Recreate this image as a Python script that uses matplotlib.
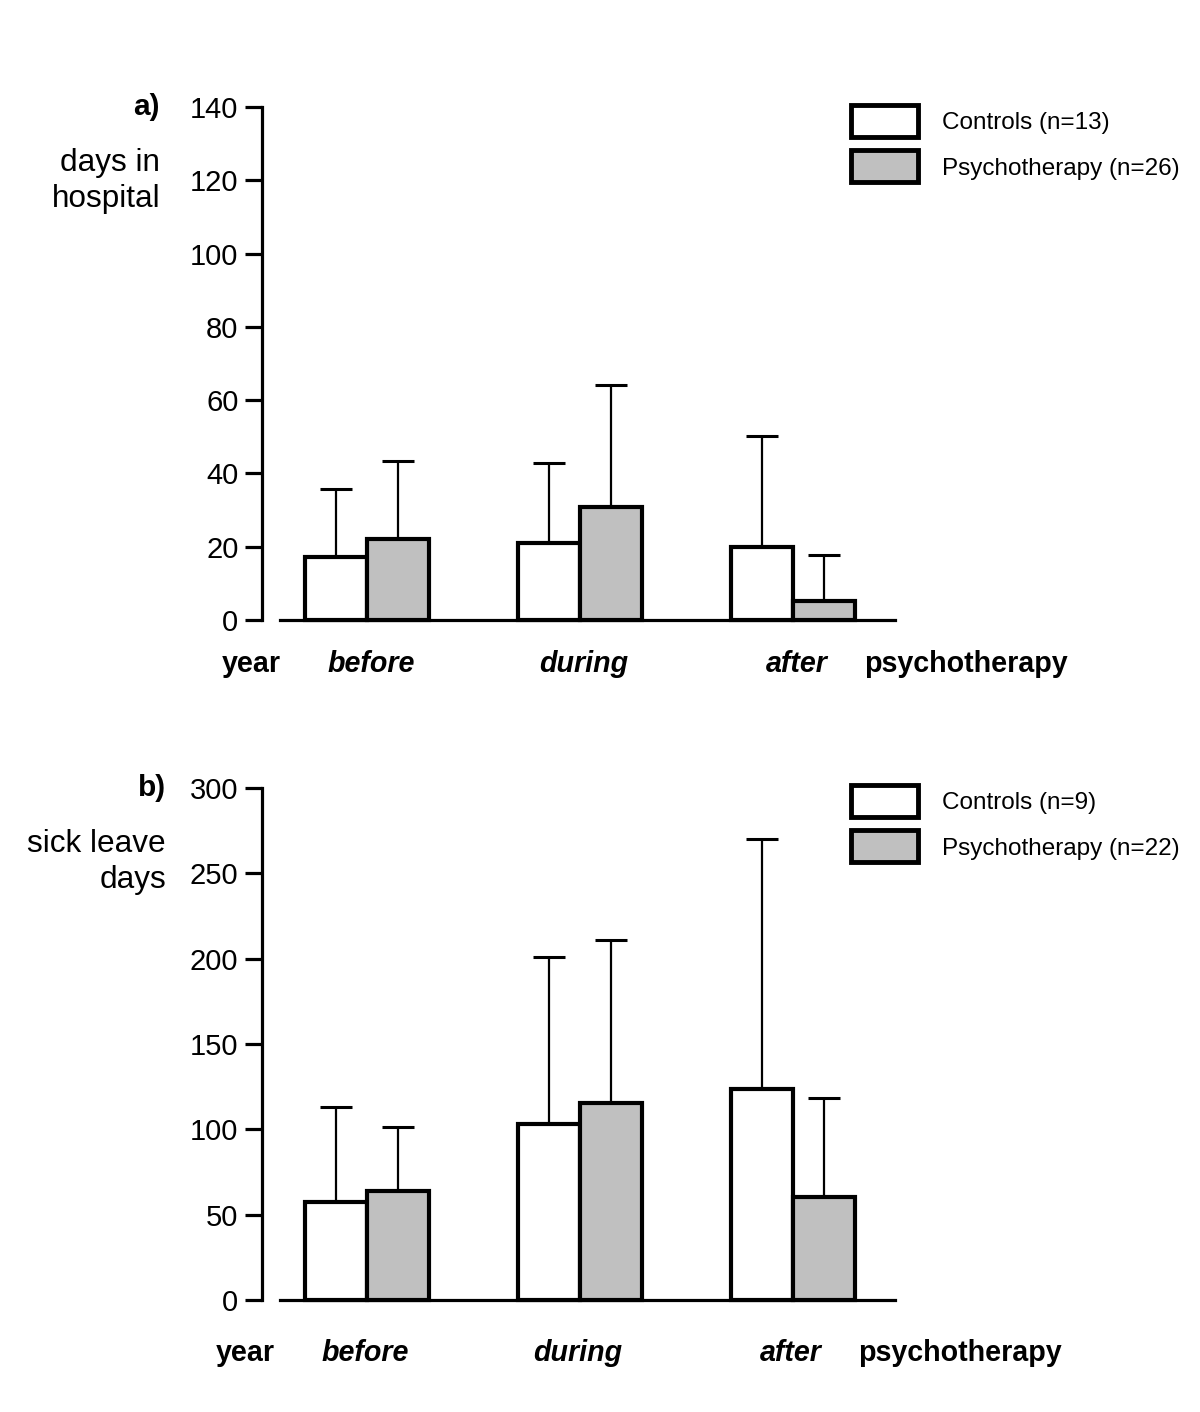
import matplotlib
matplotlib.use("Agg")
import matplotlib.pyplot as plt
from matplotlib.patches import Patch, Rectangle
from matplotlib.legend_handler import HandlerPatch
import numpy as np

plt.rcParams['font.family'] = ['Liberation Sans', 'DejaVu Sans']

periods = ["before", "during", "after"]
hosp_controls = [17.2, 21.0, 19.9]
hosp_controls_sd = [18.5, 21.8, 30.3]
hosp_psych = [22.1, 30.8, 5.2]
hosp_psych_sd = [21.3, 33.3, 12.5]
hosp_ticks = [0, 20, 40, 60, 80, 100, 120, 140]

sick_controls = [57.4, 103.1, 123.6]
sick_controls_sd = [55.6, 97.9, 146.4]
sick_psych = [63.9, 115.4, 60.4]
sick_psych_sd = [37.5, 95.6, 58.0]
sick_ticks = [0, 50, 100, 150, 200, 250, 300]

W, H = 1200, 1412
fig = plt.figure(figsize=(W / 100, H / 100), dpi=100)

GRAY = "#c0c0c0"
bw = 0.29
xl, xr = (262 - 367) / 213.0, (895 - 367) / 213.0
xstart = (280 - 367) / 213.0
PX = 0.72  # points per pixel at dpi 100


def fx(px):
    return px / W


def fy(py):
    return 1 - py / H


def legend_box(legend, orig_handle, xdescent, ydescent, width, height,
               fontsize):
    hh = 32 * PX
    cy = -ydescent + height / 2
    return Rectangle((-xdescent, cy - hh / 2), width, hh)


def panel(top_px, bot_px, ctrl, ctrl_sd, psy, psy_sd, ticks, ymax,
          letter, letter_x, ylab, ylab_x, ylab_y, n_ctrl, n_psy,
          label_y, label_shift, leg_top):
    ax = fig.add_axes([fx(262), fy(bot_px), fx(895) - fx(262),
                       (bot_px - top_px) / H])
    x = np.arange(len(periods))
    ax.errorbar(x - bw / 2, ctrl, yerr=[np.zeros(3), ctrl_sd], fmt='none',
                ecolor='black', elinewidth=1.6, capsize=11.2, capthick=2.2,
                zorder=1, clip_on=False)
    ax.errorbar(x + bw / 2, psy, yerr=[np.zeros(3), psy_sd], fmt='none',
                ecolor='black', elinewidth=1.6, capsize=11.2, capthick=2.2,
                zorder=1, clip_on=False)
    ax.bar(x - bw / 2, ctrl, bw, facecolor='white', edgecolor='black',
           linewidth=3.0, zorder=2, clip_on=False)
    ax.bar(x + bw / 2, psy, bw, facecolor=GRAY, edgecolor='black',
           linewidth=3.0, zorder=2, clip_on=False)
    ax.set_xlim(xl, xr)
    ax.set_ylim(0, ymax)
    for s in ['top', 'right']:
        ax.spines[s].set_visible(False)
    ax.spines['left'].set_linewidth(2.3)
    ax.spines['bottom'].set_linewidth(2.3)
    ax.spines['bottom'].set_bounds(xstart, xr)
    ax.set_yticks(ticks)
    ax.tick_params(axis='y', direction='out', length=12, width=2.3,
                   labelsize=21, pad=5)
    ax.set_xticks([])
    # labels
    fig.text(fx(letter_x), fy(top_px), letter, ha='right', va='center',
             fontsize=21.5, fontweight='bold')
    fig.text(fx(ylab_x), fy(ylab_y), ylab, ha='right', va='center',
             fontsize=22.7, linespacing=1.3)
    fig.text(fx(251 + label_shift), fy(label_y), "year", ha='center',
             va='center', fontsize=20.6, fontweight='bold')
    for i, p in enumerate(periods):
        cx = 371 + 213 * i + label_shift
        fig.text(fx(cx), fy(label_y), p, ha='center', va='center',
                 fontsize=20.6, fontweight='bold', style='italic')
    fig.text(fx(864 + label_shift), fy(label_y), "psychotherapy", ha='left',
             va='center', fontsize=20.6, fontweight='bold')
    handles = [Patch(facecolor='white', edgecolor='black', linewidth=3.5,
                     label=f"Controls (n={n_ctrl})"),
               Patch(facecolor=GRAY, edgecolor='black', linewidth=3.5,
                     label=f"Psychotherapy (n={n_psy})")]
    fig.legend(handles=handles, loc='upper left',
               bbox_to_anchor=(fx(851), fy(leg_top)), frameon=False,
               fontsize=17.5, handlelength=67 * PX / 17.5, handleheight=1.0,
               handletextpad=1.0, labelspacing=0.88, borderpad=0,
               borderaxespad=0,
               handler_map={Patch: HandlerPatch(patch_func=legend_box)})
    return ax


panel(107, 620, hosp_controls, hosp_controls_sd, hosp_psych, hosp_psych_sd,
      hosp_ticks, 140, "a)", 160, "days in\nhospital", 160, 181,
      13, 26, 664, 0, 110)
panel(788, 1300, sick_controls, sick_controls_sd, sick_psych, sick_psych_sd,
      sick_ticks, 300, "b)", 166, "sick leave\ndays", 166, 862,
      9, 22, 1353, -6, 790)

fig.savefig("out.png", dpi=100)
